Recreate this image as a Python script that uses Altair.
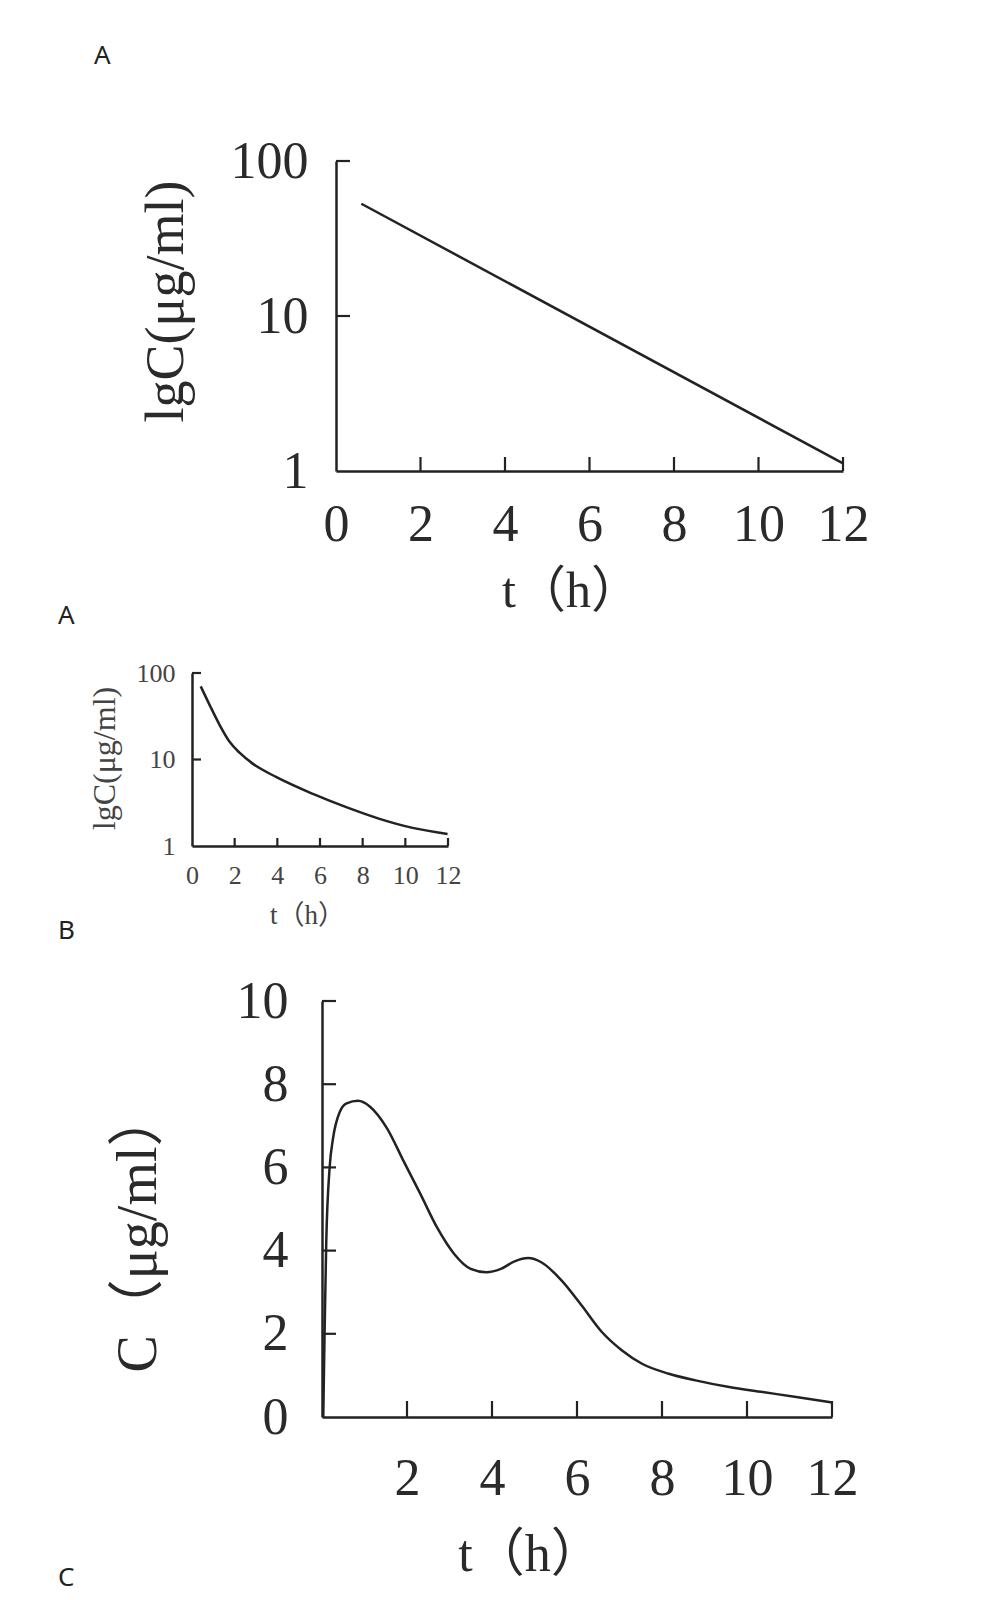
import altair as alt
import pandas as pd

# ---------------- data ----------------
# Panel A: straight decline on a log axis
a_t = [0.6, 12.0]
a_c = [53.0, 1.12]
a_xlabels = [0, 2, 4, 6, 8, 10, 12]
a_ylabels = [1, 10, 100]
a_xticks = [2, 4, 6, 8, 10, 12]
a_yticks = [10, 100]

# Panel B: bi-exponential decline on a log axis
b_t = [0.41, 0.84, 1.31, 1.78, 2.24, 2.86, 3.96, 5.67, 7.23, 8.79, 10.34, 11.98]
b_c = [70.0, 42.0, 24.7, 15.8, 11.9, 8.9, 6.25, 4.0, 2.81, 2.06, 1.62, 1.38]
b_xlabels = [0, 2, 4, 6, 8, 10, 12]
b_ylabels = [1, 10, 100]
b_xticks = [2, 4, 6, 8, 10, 12]
b_yticks = [10, 100]

# Panel C: double-peak concentration curve on a linear axis
c_t = [0.03, 0.06, 0.1, 0.18, 0.26, 0.42, 0.58, 0.85, 1.13, 1.53, 1.92, 2.32, 2.71,
       3.11, 3.5, 3.86, 4.21, 4.53, 4.85, 5.16, 5.64, 6.11, 6.58, 7.06, 7.53, 8.16,
       8.79, 9.58, 10.37, 11.16, 12.0]
c_c = [0.0, 2.0, 4.2, 6.0, 6.7, 7.34, 7.54, 7.6, 7.46, 6.94, 6.15, 5.35, 4.55,
       3.92, 3.56, 3.48, 3.56, 3.74, 3.82, 3.72, 3.28, 2.68, 2.05, 1.6, 1.28, 1.04,
       0.88, 0.72, 0.6, 0.48, 0.35]
c_xlabels = [2, 4, 6, 8, 10, 12]
c_ylabels = [0, 2, 4, 6, 8, 10]
c_xticks = [2, 4, 6, 8, 10, 12]
c_yticks = [2, 4, 6, 8, 10]

x_title = "t（h）"
log_ytitle = "lgC(μg/ml)"
lin_ytitle = "C（μg/ml）"

SERIF = "Liberation Serif"
TITLE_FONT = "'Liberation Serif', 'Noto Sans CJK SC'"
SANS = "Noto Sans"
INK = "#222222"


def letter(text, px, py):
    return alt.Chart(pd.DataFrame({"s": [text]})).mark_text(
        align="left", baseline="middle", font=SANS, fontSize=26, color=INK
    ).encode(text="s:N", x=alt.value(px), y=alt.value(py))


def spacer(letters, w):
    return alt.layer(*[letter(*l) for l in letters]).properties(width=w, height=1)


def panel(t, c, yscale, xlabels, ylabels, xticks, yticks, w, h,
          lab_fs, pad_x, pad_y, ytitle, ytitle_fs, ytx, yty,
          xtitle_fs, xtx, xty, tlen_x, tlen_y, color, interp, yfmt):
    xscale = alt.Scale(domain=[0, 12], nice=False, zero=False)
    xaxis = alt.Axis(values=xlabels, ticks=False, tickSize=0, grid=False,
                     domainColor=INK, domainWidth=2.5, labelFont=SERIF,
                     labelFontSize=lab_fs, labelColor=color, labelPadding=pad_x,
                     labelFlush=False, labelOverlap=False, format="d",
                     title=x_title, titleFont=TITLE_FONT, titleFontSize=xtitle_fs,
                     titleFontWeight="normal", titleColor=color, titleX=xtx,
                     titleY=xty, titleAlign="center", titleBaseline="middle")
    yaxis = alt.Axis(values=ylabels, ticks=False, tickSize=0, grid=False,
                     domainColor=INK, domainWidth=2.5, labelFont=SERIF,
                     labelFontSize=lab_fs, labelColor=color, labelPadding=pad_y,
                     labelFlush=False, labelOverlap=False, format=yfmt,
                     title=ytitle, titleFont=TITLE_FONT, titleFontSize=ytitle_fs,
                     titleFontWeight="normal", titleColor=color, titleX=ytx,
                     titleY=yty, titleAlign="center", titleBaseline="middle",
                     titleAngle=270)
    x_enc = alt.X("t:Q", scale=xscale, axis=xaxis)
    y_enc = alt.Y("c:Q", scale=yscale, axis=yaxis)

    line = alt.Chart(pd.DataFrame({"t": t, "c": c})).mark_line(
        color=INK, strokeWidth=2.5, interpolate=interp
    ).encode(x=x_enc, y=y_enc)
    xt = alt.Chart(pd.DataFrame({"t": xticks})).mark_rule(
        color=INK, strokeWidth=2.2
    ).encode(x=x_enc, y=alt.value(h), y2=alt.value(h - tlen_x))
    yt = alt.Chart(pd.DataFrame({"c": yticks})).mark_rule(
        color=INK, strokeWidth=2.2
    ).encode(y=y_enc, x=alt.value(0), x2=alt.value(tlen_y))
    return alt.layer(line, xt, yt).properties(width=w, height=h)


pA = panel(a_t, a_c, alt.Scale(type="log", domain=[1, 100], nice=False),
           a_xlabels, a_ylabels, a_xticks, a_yticks, 507, 310,
           52, 28, 28, log_ytitle, 54, -170, 140,
           50, 235, 120, 14, 14, "#2a2a2a", "linear", "d")

pB = panel(b_t, b_c, alt.Scale(type="log", domain=[1, 100], nice=False),
           b_xlabels, b_ylabels, b_xticks, b_yticks, 256, 173,
           26, 16, 17, log_ytitle, 32, -88, 85,
           27, 115, 69, 8, 9, "#444444", "monotone", "d")

pC = panel(c_t, c_c, alt.Scale(domain=[0, 10], nice=False),
           c_xlabels, c_ylabels, c_xticks, c_yticks, 510, 416,
           52, 36, 34, lin_ytitle, 56, -184, 230,
           52, 208, 137, 16, 14, "#2a2a2a", "monotone", "d")

rowA = alt.hconcat(spacer([("A", 36, -105), ("A", 0, 455)], 81), pA, spacing=0)
rowB = alt.hconcat(spacer([("B", 0, 258)], 30), pB, spacing=0)
rowC = alt.hconcat(spacer([("C", 0, 577)], 52), pC, spacing=0)

chart = alt.vconcat(rowA, rowB, rowC, spacing=31).properties(
    padding={"left": 50, "top": 35, "right": 5, "bottom": 5},
    background="white",
).configure_view(stroke=None)

chart.save("out.html", embed_options={"renderer": "svg", "actions": False})
